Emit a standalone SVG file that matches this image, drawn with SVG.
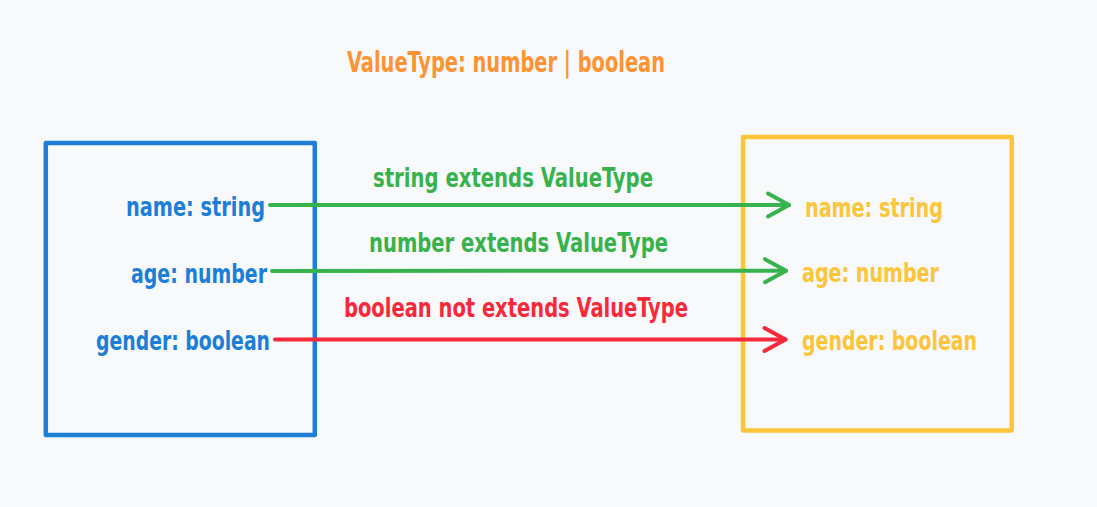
<svg xmlns="http://www.w3.org/2000/svg" width="1097" height="507" viewBox="0 0 1097 507">
  <style>
    .t { font-family: "DejaVu Sans Condensed", "DejaVu Sans", sans-serif; font-weight: bold; font-size: 26px; }
    .title { font-size: 28px; fill: #fd9333; }
    .blue { fill: #1c7ed6; }
    .yellow { fill: #fcc53a; }
    .green { fill: #37b24d; }
    .red { fill: #f8283b; }
    .box { fill: none; stroke-width: 4.5; stroke-linejoin: round; }
    .conn { fill: none; stroke-width: 4; stroke-linecap: round; }
  </style>
  <defs>
    <marker id="ahG" viewBox="-26 -16 30 32" markerWidth="30" markerHeight="32" refX="0" refY="0" markerUnits="userSpaceOnUse" orient="auto" overflow="visible">
      <path d="M -21 -11.5 L 0 0 L -21 11.5" fill="none" stroke="#37b24d" stroke-width="4" stroke-linecap="round" stroke-linejoin="round"/>
    </marker>
    <marker id="ahR" viewBox="-26 -16 30 32" markerWidth="30" markerHeight="32" refX="0" refY="0" markerUnits="userSpaceOnUse" orient="auto" overflow="visible">
      <path d="M -21 -11.5 L 0 0 L -21 11.5" fill="none" stroke="#f8283b" stroke-width="4" stroke-linecap="round" stroke-linejoin="round"/>
    </marker>
  </defs>
  <rect width="1097" height="507" fill="#f8f9fa"/>

  <g id="title">
    <text class="t title" x="347" y="72" textLength="318" lengthAdjust="spacingAndGlyphs">ValueType: number | boolean</text>
  </g>

  <g id="source">
    <rect class="box" x="45.8" y="143" width="269" height="292" stroke="#1c7ed6"/>
    <text class="t blue" x="126" y="216" textLength="139" lengthAdjust="spacingAndGlyphs">name: string</text>
    <text class="t blue" x="131" y="283" textLength="136" lengthAdjust="spacingAndGlyphs">age: number</text>
    <text class="t blue" x="96" y="350" textLength="174" lengthAdjust="spacingAndGlyphs">gender: boolean</text>
  </g>

  <g id="target">
    <rect class="box" x="743" y="137" width="268.7" height="293.5" stroke="#fcc53a"/>
    <text class="t yellow" x="805" y="217" textLength="138" lengthAdjust="spacingAndGlyphs">name: string</text>
    <text class="t yellow" x="802" y="282" textLength="137" lengthAdjust="spacingAndGlyphs">age: number</text>
    <text class="t yellow" x="802" y="350" textLength="175" lengthAdjust="spacingAndGlyphs">gender: boolean</text>
  </g>

  <g id="connectors">
    <path class="conn" d="M 270 205 L 789 205" stroke="#37b24d" marker-end="url(#ahG)"/>
    <path class="conn" d="M 272 271 L 786 270.7" stroke="#37b24d" marker-end="url(#ahG)"/>
    <path class="conn" d="M 275 339.5 L 785.5 339.5" stroke="#f8283b" marker-end="url(#ahR)"/>
    <text class="t green" x="373" y="187" textLength="280" lengthAdjust="spacingAndGlyphs">string extends ValueType</text>
    <text class="t green" x="369" y="252" textLength="299" lengthAdjust="spacingAndGlyphs">number extends ValueType</text>
    <text class="t red" x="344" y="317" textLength="344" lengthAdjust="spacingAndGlyphs">boolean not extends ValueType</text>
  </g>
</svg>
